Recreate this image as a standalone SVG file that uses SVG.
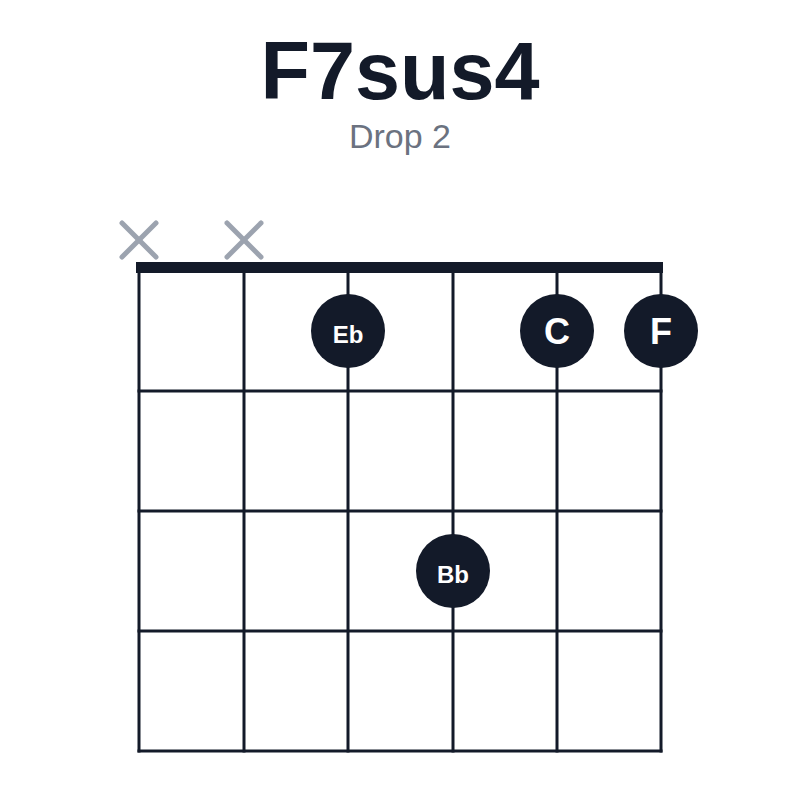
<svg xmlns="http://www.w3.org/2000/svg" width="800" height="800" viewBox="0 0 800 800">
<style>
.grid line{stroke:#131a29;stroke-width:3;stroke-linecap:square}
.x line{stroke:#9ca3af;stroke-width:5;stroke-linecap:round}
.dot circle{fill:#131a29}
.dot text{fill:#ffffff;font-family:"Liberation Sans",Arial,sans-serif;text-anchor:middle;font-weight:bold}
.sm{font-size:24px}
.lg{font-size:36px}
</style>
<rect width="800" height="800" fill="#ffffff"/>
<text x="400" y="99" text-anchor="middle" font-family="Liberation Sans, Arial, sans-serif" font-weight="bold" font-size="81" fill="#131a29">F7sus4</text>
<text x="400" y="148" text-anchor="middle" font-family="Liberation Sans, Arial, sans-serif" font-size="34" fill="#6b7280">Drop 2</text>
<g id="muted" class="x">
<line x1="122" y1="223" x2="156" y2="257"/><line x1="156" y1="223" x2="122" y2="257"/>
<line x1="227" y1="223" x2="261" y2="257"/><line x1="261" y1="223" x2="227" y2="257"/>
</g>
<g id="grid" class="grid">
<line x1="139" y1="271" x2="139" y2="751"/>
<line x1="244" y1="271" x2="244" y2="751"/>
<line x1="348" y1="271" x2="348" y2="751"/>
<line x1="453" y1="271" x2="453" y2="751"/>
<line x1="557" y1="271" x2="557" y2="751"/>
<line x1="661" y1="271" x2="661" y2="751"/>
<line x1="139" y1="391" x2="661" y2="391"/>
<line x1="139" y1="511" x2="661" y2="511"/>
<line x1="139" y1="631" x2="661" y2="631"/>
<line x1="139" y1="751" x2="661" y2="751"/>
<rect x="136" y="262" width="527" height="11" fill="#131a29"/>
</g>
<g id="dot-Eb" class="dot"><circle cx="348" cy="331" r="37"/><text class="sm" x="348" y="343">Eb</text></g>
<g id="dot-C" class="dot"><circle cx="557" cy="331" r="37"/><text class="lg" x="557" y="344">C</text></g>
<g id="dot-F" class="dot"><circle cx="661" cy="331" r="37"/><text class="lg" x="661" y="344">F</text></g>
<g id="dot-Bb" class="dot"><circle cx="453" cy="571" r="37"/><text class="sm" x="453" y="583">Bb</text></g>
</svg>
